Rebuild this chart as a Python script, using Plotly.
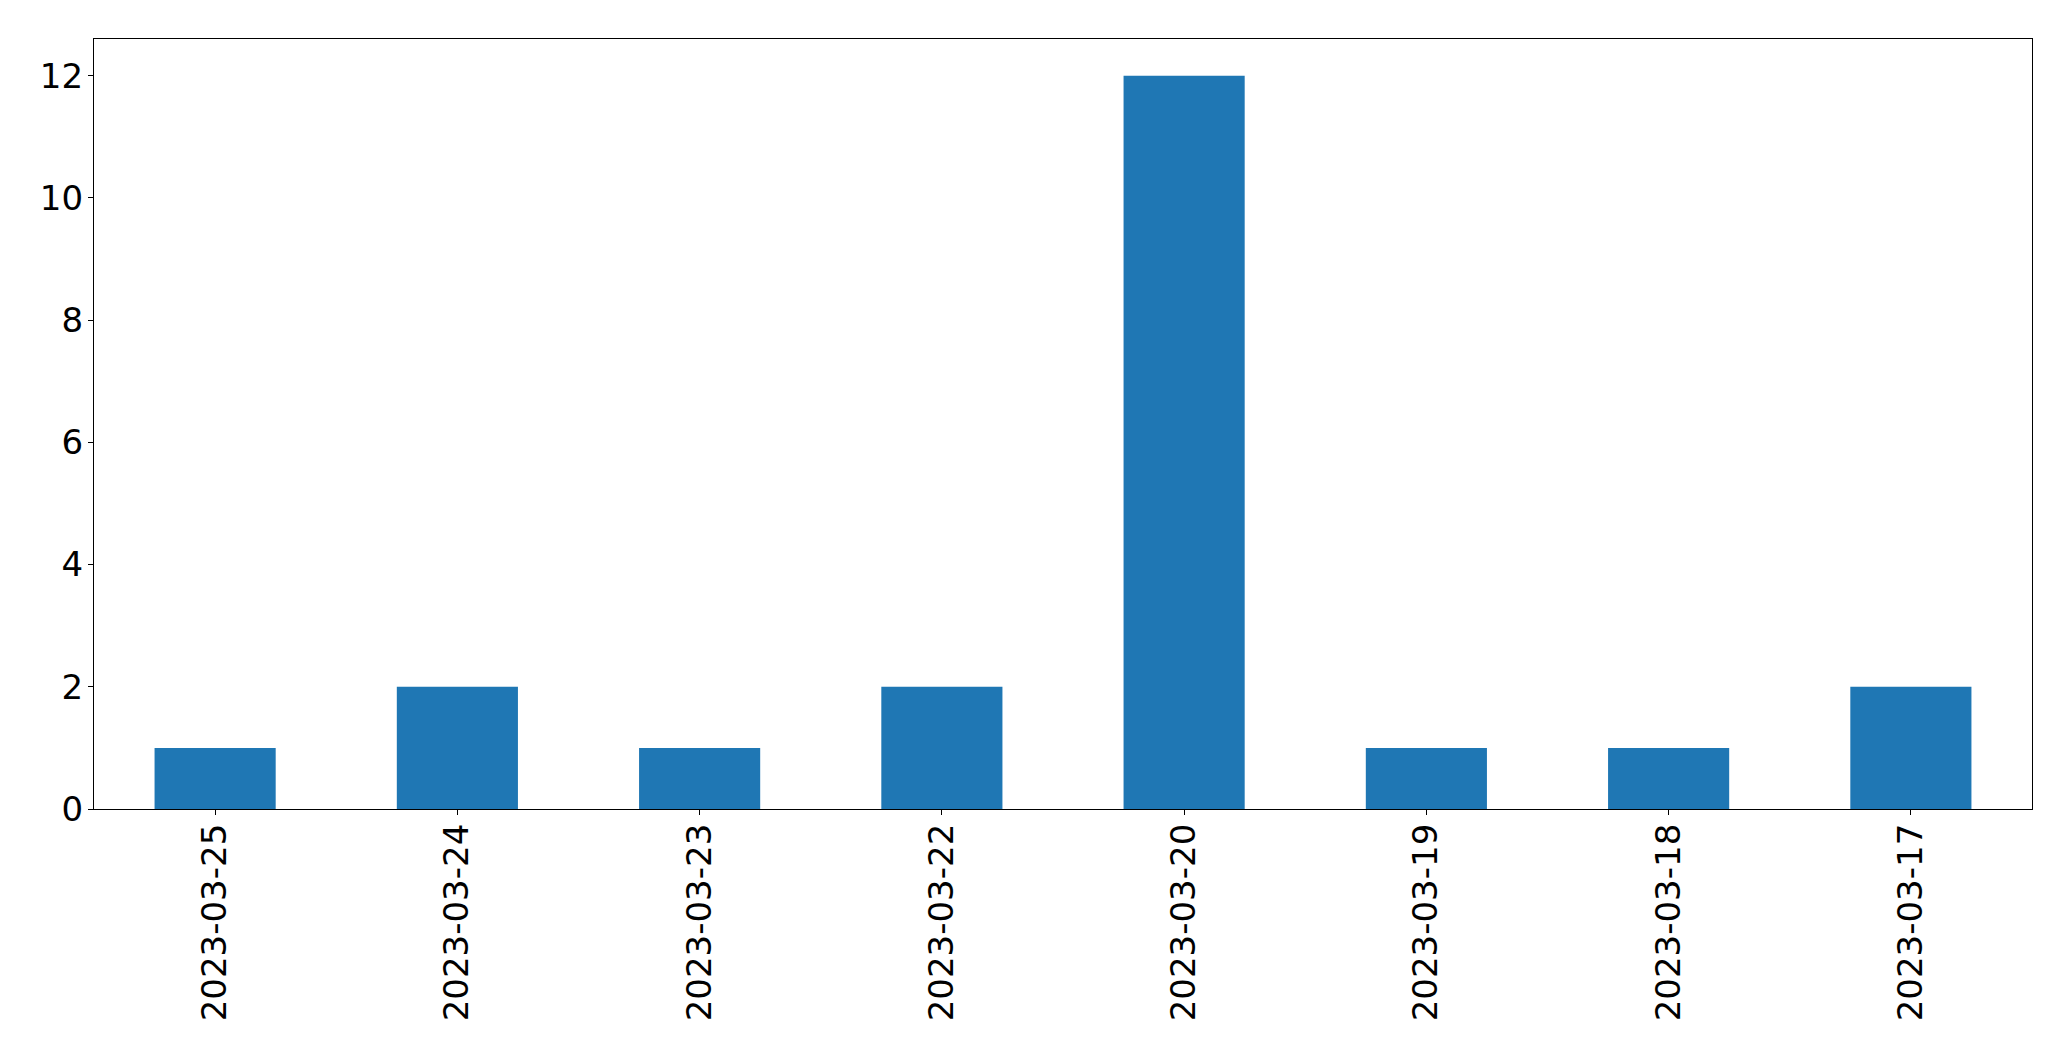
import plotly.graph_objects as go

dates = ["2023-03-25", "2023-03-24", "2023-03-23", "2023-03-22",
         "2023-03-20", "2023-03-19", "2023-03-18", "2023-03-17"]
counts = [1, 2, 1, 2, 12, 1, 1, 2]
y_ticks = [0, 2, 4, 6, 8, 10, 12]

fig = go.Figure(go.Bar(x=dates, y=counts, width=0.5, marker_color="#1f77b4",
                       marker_line_width=0))

axis_common = dict(showline=True, linecolor="black", linewidth=1.3, mirror=True,
                   ticks="outside", ticklen=5, tickwidth=1.3, tickcolor="black",
                   showgrid=False, zeroline=False,
                   tickfont=dict(family="DejaVu Sans", size=34, color="black"))

fig.update_xaxes(type="category", range=[-0.5, 7.5], tickangle=-90,
                 ticklabelstandoff=-5, **axis_common)
fig.update_yaxes(range=[0, 12.6], tickvals=y_ticks, ticklabelstandoff=-2, **axis_common)

# page body has an 8px margin; compensate so the plot area lands where the reference has it
fig.update_layout(width=2063, height=1053, plot_bgcolor="white", paper_bgcolor="white",
                  margin=dict(l=86, r=39, t=31, b=252), showlegend=False)

fig.write_html("out.html")
